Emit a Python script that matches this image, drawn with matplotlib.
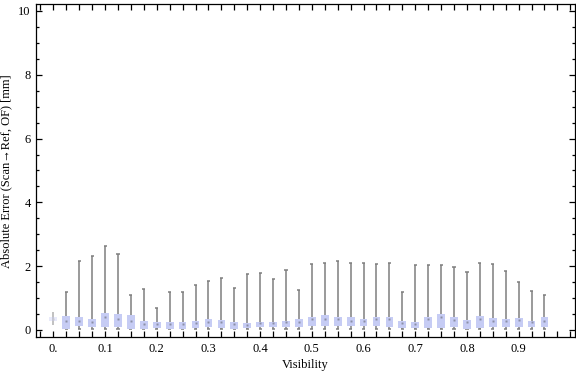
import numpy as np
import matplotlib.pyplot as plt
from matplotlib.ticker import MultipleLocator, FixedLocator

plt.rcParams['font.family'] = ['Liberation Serif', 'DejaVu Serif']

# visibility bins (box positions)
visibility = [round(0.025 * i, 3) for i in range(39)]

# whisker ends, quartiles and medians [mm]
whisker_hi = [0.56, 1.19, 2.16, 2.31, 2.63, 2.38, 1.10, 1.28, 0.69, 1.19,
              1.19, 1.40, 1.53, 1.63, 1.31, 1.75, 1.78, 1.60, 1.88, 1.25,
              2.06, 2.09, 2.16, 2.09, 2.09, 2.06, 2.09, 1.19, 2.03, 2.03,
              2.03, 1.97, 1.81, 2.09, 2.06, 1.84, 1.50, 1.22, 1.09]
whisker_lo = [0.16, 0.02, 0.02, 0.02, 0.02, 0.02, 0.02, 0.02, 0.02, 0.02,
              0.02, 0.02, 0.02, 0.02, 0.02, 0.02, 0.02, 0.02, 0.02, 0.02,
              0.02, 0.02, 0.02, 0.02, 0.02, 0.02, 0.02, 0.02, 0.02, 0.02,
              0.02, 0.02, 0.02, 0.02, 0.02, 0.02, 0.02, 0.02, 0.02]
q3 = [0.40, 0.44, 0.42, 0.33, 0.54, 0.50, 0.48, 0.27, 0.25, 0.25,
      0.25, 0.27, 0.35, 0.31, 0.25, 0.23, 0.25, 0.25, 0.29, 0.35,
      0.42, 0.46, 0.42, 0.42, 0.35, 0.40, 0.40, 0.27, 0.25, 0.40,
      0.50, 0.42, 0.31, 0.44, 0.37, 0.35, 0.37, 0.29, 0.42]
q1 = [0.29, 0.02, 0.12, 0.10, 0.08, 0.10, 0.04, 0.04, 0.06, 0.04,
      0.04, 0.06, 0.10, 0.06, 0.04, 0.06, 0.08, 0.08, 0.08, 0.10,
      0.12, 0.12, 0.12, 0.12, 0.12, 0.12, 0.10, 0.06, 0.06, 0.06,
      0.06, 0.08, 0.04, 0.06, 0.08, 0.10, 0.10, 0.08, 0.10]
median = [0.34, 0.27, 0.29, 0.24, 0.42, 0.35, 0.29, 0.20, 0.19, 0.20,
          0.20, 0.21, 0.26, 0.24, 0.19, 0.17, 0.21, 0.21, 0.24, 0.26,
          0.33, 0.35, 0.33, 0.27, 0.29, 0.33, 0.33, 0.23, 0.19, 0.35,
          0.40, 0.31, 0.25, 0.35, 0.29, 0.29, 0.31, 0.25, 0.29]

stats = [dict(med=m, q1=a, q3=b, whislo=lo, whishi=hi, fliers=[])
         for m, a, b, lo, hi in zip(median, q1, q3, whisker_lo, whisker_hi)]

fig = plt.figure(figsize=(5.76, 3.77), dpi=100)
ax = fig.add_axes([36.3 / 576, 39.7 / 377, 538.7 / 576, 333 / 377])

box_col = '#c6ccf4'
line_col = '#7f7f7f'

# whiskers first so the box sits on top of the line
for i, (x, lo, hi) in enumerate(zip(visibility, whisker_lo, whisker_hi)):
    c = '#b0b0b0' if i == 0 else line_col
    ax.vlines(x, lo, hi, color=c, lw=1.1, zorder=2)
    if i > 0:
        ax.hlines([lo, hi], x - 0.003, x + 0.003, color=c, lw=1.1, zorder=2)

bp = ax.bxp(stats, positions=visibility, widths=0.015, patch_artist=True,
            showcaps=False, manage_ticks=False,
            boxprops=dict(facecolor=box_col, edgecolor='none'),
            whiskerprops=dict(linewidth=0),
            medianprops=dict(linewidth=0))
for b in bp['boxes']:
    b.set_zorder(3)
bp['boxes'][0].set_alpha(0.4)

ax.plot(visibility[1:], median[1:], 's', ms=1.8, color='#8b8fa6', mec='none', zorder=4)
ax.plot(visibility[:1], median[:1], 's', ms=1.8, color='#c8c8d0', mec='none', zorder=4)

ax.set_xlim(-0.033, 1.009)
ax.set_ylim(-0.23, 10.21)

ax.xaxis.set_major_locator(FixedLocator([0.1 * i for i in range(10)]))
ax.set_xticklabels(['0.'] + ['%.1f' % (0.1 * i) for i in range(1, 10)])
ax.xaxis.set_minor_locator(MultipleLocator(0.025))
ax.yaxis.set_major_locator(MultipleLocator(2))
ax.yaxis.set_minor_locator(MultipleLocator(0.5))

ax.tick_params(which='both', direction='in', top=True, right=True, labelsize=9,
               width=0.9, pad=4)
ax.tick_params(which='major', length=4)
ax.tick_params(which='minor', length=2.5)
ax.tick_params(axis='x', which='minor', length=4)
for s in ax.spines.values():
    s.set_linewidth(0.9)

ax.set_xlabel('Visibility', fontsize=9, labelpad=3)
ax.set_ylabel('Absolute Error (Scan\u2192Ref, OF) [mm]', fontsize=9, labelpad=4)

fig.savefig('out.png', dpi=100, facecolor='white')
